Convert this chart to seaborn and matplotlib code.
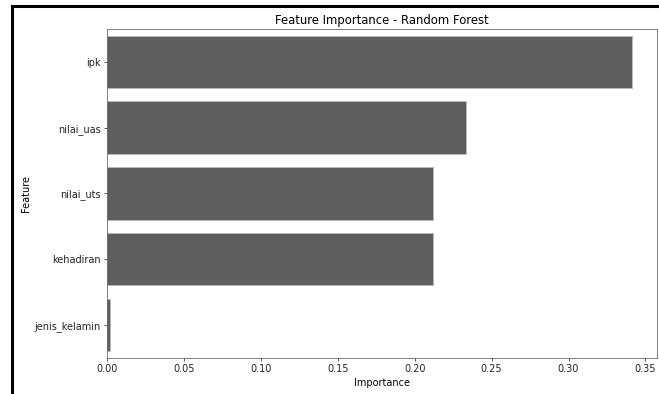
import matplotlib
matplotlib.use("Agg")
import matplotlib.pyplot as plt
import seaborn as sns
import pandas as pd
from matplotlib.lines import Line2D

features = ["ipk", "nilai_uas", "nilai_uts", "kehadiran", "jenis_kelamin"]
importance = [0.3411, 0.2334, 0.2118, 0.2118, 0.0017]
x_ticks = [0.00, 0.05, 0.10, 0.15, 0.20, 0.25, 0.30, 0.35]

df = pd.DataFrame({"Feature": features, "Importance": importance})

s = 0.659
f = 0.70
plt.rcParams["font.family"] = ["DejaVu Sans"]
fig = plt.figure(figsize=(6.59, 3.94), dpi=100)
ax = fig.add_axes([107 / 659, 1 - 357.7 / 394, (657 - 107) / 659, (357.7 - 29) / 394])

sns.barplot(data=df, x="Importance", y="Feature", color="#5e5e5e", saturation=1,
            edgecolor="#b8b8b8", linewidth=0.6, ax=ax)

ax.set_xlim(0, 0.3575)
ax.set_xticks(x_ticks)
ax.set_xticklabels([f"{t:.2f}" for t in x_ticks])
ax.tick_params(labelsize=10 * f, length=3.5 * s, width=0.8 * s, colors="#222222", pad=3.5 * s)
for sp in ax.spines.values():
    sp.set_linewidth(0.8 * s)
    sp.set_color("#555555")
ax.set_title("Feature Importance - Random Forest", fontsize=12 * f, pad=6 * s)
ax.set_xlabel("Importance", fontsize=10 * f, labelpad=4 * s)
ax.set_ylabel("Feature", fontsize=10 * f, labelpad=4 * s)

# screenshot frame
fig.add_artist(Line2D([12 / 659, 1], [1 - 6 / 394, 1 - 6 / 394], color="black", lw=2.2,
                      transform=fig.transFigure))
fig.add_artist(Line2D([12 / 659, 12 / 659], [0, 1 - 6 / 394], color="black", lw=2.2,
                      transform=fig.transFigure))

fig.savefig("out.png", dpi=100)
